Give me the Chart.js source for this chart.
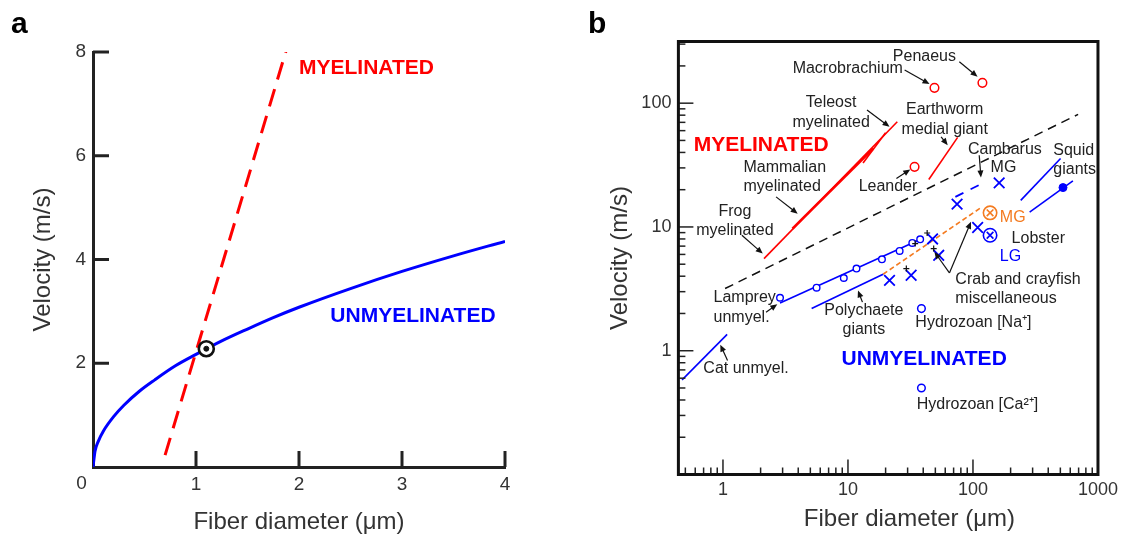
<!DOCTYPE html>
<html lang="en">
<head>
<meta charset="UTF-8">
<title>Conduction velocity vs fiber diameter</title>
<script src="https://cdn.jsdelivr.net/npm/chart.js"></script>
<style>
  body { margin: 0; background: #fff; font-family: "Liberation Sans", Arial, sans-serif; }
  .wrap { position: relative; width: 1123px; height: 535px; overflow: hidden; }
  #chartA { position: absolute; left: 0; top: 0; }
  #chartB { position: absolute; left: 560px; top: 0; }
  .panel { position: absolute; font-weight: bold; font-size: 30px; line-height: 30px; color: #000; }
</style>
</head>
<body>
<div class="wrap">
  <canvas id="chartA" width="560" height="535"></canvas>
  <canvas id="chartB" width="563" height="535"></canvas>
  <div class="panel" style="left:11px; top:8px;">a</div>
  <div class="panel" style="left:588px; top:8px;">b</div>
</div>
<script>
const FONT = '"Liberation Sans", Arial, sans-serif';
const TXT = '#222';

// ---------- panel a ----------
const unmyelDiam = [0, 0.02, 0.05, 0.1, 0.2, 0.3, 0.45, 0.6, 0.8, 1.0, 1.25, 1.5, 1.75, 2.0, 2.5, 3.0, 3.5, 4.0];
const unmyelVel  = [0, 0.31, 0.49, 0.69, 0.97, 1.19, 1.46, 1.68, 1.95, 2.17, 2.43, 2.66, 2.88, 3.08, 3.44, 3.77, 4.07, 4.35];
const myelDiam = [0.70, 1.88];
const myelVel  = [0.23, 8.06];
const crossDiam = [1.1];
const crossVel  = [2.28];
const xTicksA = [0, 1, 2, 3, 4];
const yTicksA = [0, 2, 4, 6, 8];

// ---------- panel b ----------
const dividerX = [1.04, 694];          // black dashed boundary
const dividerY = [3.18, 81.2];
const myelLineX = [2.13, 24.8];        // frog -> teleost red line
const myelLineY = [5.55, 70.7];
const mammalX = [3.6, 15.9];
const mammalY = [9.7, 43];
const teleostX = [13.2, 20];
const teleostY = [32.9, 57.6];
const wormX = [44.3, 75.4];
const wormY = [24.2, 52.9];
const redCircX = [49.2, 119, 34.1];    // Macrobrachium, Penaeus, Leander
const redCircY = [133, 146, 30.6];
const catX = [0.471, 1.08];
const catY = [0.582, 1.355];
const lampLineX = [2.86, 38.5];
const lampLineY = [2.43, 8.0];
const lampCircX = [2.86, 5.61, 9.26, 11.7, 18.7, 25.9, 32.7, 37.8];
const lampCircY = [2.68, 3.23, 3.87, 4.61, 5.48, 6.4, 7.43, 7.95];
const polyX = [5.12, 19.1];
const polyY = [2.19, 4.15];
const orangeX = [19.1, 118];
const orangeY = [4.15, 14.5];
const crabX = [21.5, 32, 47.5, 53.2, 74.6, 109, 162];
const crabY = [3.7, 4.07, 8.0, 5.9, 15.3, 9.9, 22.7];
const cambarusX = [72.3, 118];
const cambarusY = [17.5, 22.4];
const lobsterMGX = [137], lobsterMGY = [13.0];
const lobsterLGX = [137], lobsterLGY = [8.57];
const squid1X = [241, 502], squid1Y = [16.4, 35.7];
const squid2X = [284, 630], squid2Y = [13.2, 23.6];
const squidDotX = [525], squidDotY = [20.8];
const hydroX = [38.7, 38.7];
const hydroY = [2.19, 0.50];
const crabTickX = [43.0, 34.5, 48.5, 29.3];
const crabTickY = [8.94, 7.34, 6.69, 4.61];

const xTicksB = [0.5, 0.6, 0.7, 0.8, 0.9, 1, 2, 3, 4, 5, 6, 7, 8, 9, 10, 20, 30, 40, 50, 60, 70, 80, 90,
                 100, 200, 300, 400, 500, 600, 700, 800, 900, 1000];
const yTicksB = [0.2, 0.3, 0.4, 0.5, 0.6, 0.7, 0.8, 0.9, 1, 2, 3, 4, 5, 6, 7, 8, 9, 10, 20, 30, 40, 50, 60, 70, 80, 90,
                 100, 200, 300];
const xLabelsB = [1, 10, 100, 1000];
const yLabelsB = [1, 10, 100];

// text annotations (data coordinates)
const labelsB = [
  { t: ['Penaeus'], x: 40.9, y: 240 },
  { t: ['Macrobrachium'], x: 9.96, y: 190.5 },
  { t: ['Teleost', 'myelinated'], x: 7.33, y: 83.8 },
  { t: ['Earthworm', 'medial giant'], x: 59.4, y: 73.7 },
  { t: ['MYELINATED'], x: 0.583, y: 45.8, align: 'left', color: '#ff0000', bold: true, size: 21 },
  { t: ['Cambarus'], x: 180, y: 42.5 },
  { t: ['MG'], x: 138.4, y: 30.0, align: 'left' },
  { t: ['Squid', 'giants'], x: 439, y: 34.8, align: 'left' },
  { t: ['Mammalian', 'myelinated'], x: 1.459, y: 25.2, align: 'left' },
  { t: ['Leander'], x: 20.9, y: 21.1 },
  { t: ['Frog', 'myelinated'], x: 1.246, y: 11.2 },
  { t: ['MG'], x: 164, y: 11.9, align: 'left', color: '#f47b20' },
  { t: ['Lobster'], x: 333, y: 8.06 },
  { t: ['LG'], x: 164, y: 5.72, align: 'left', color: '#0000ff' },
  { t: ['Crab and crayfish', 'miscellaneous'], x: 72.3, y: 3.13, align: 'left' },
  { t: ['Lamprey', 'unmyel.'], x: 0.841, y: 2.23, align: 'left' },
  { t: ['Polychaete', 'giants'], x: 13.4, y: 1.77 },
  { t: ['Hydrozoan [Na\u207A]'], x: 34.6, y: 1.68, align: 'left' },
  { t: ['UNMYELINATED'], x: 8.88, y: 0.85, align: 'left', color: '#0000ff', bold: true, size: 21 },
  { t: ['Cat unmyel.'], x: 1.53, y: 0.715 },
  { t: ['Hydrozoan [Ca\u00B2\u207A]'], x: 35.5, y: 0.37, align: 'left' }
];
// arrows [x1, y1, x2, y2] in data coordinates, head at the second point
const arrowsB = [
  [28.4, 185.3, 44.9, 142.8],
  [77.8, 216, 108.8, 163.5],
  [14.2, 88, 21.5, 64.4],
  [55.6, 53.5, 62.8, 45.8],
  [112.2, 38, 115.8, 25.1],
  [2.66, 17.5, 3.96, 12.8],
  [24.4, 24.6, 31.5, 29.1],
  [1.417, 8.57, 2.08, 6.09],
  [64.8, 4.25, 96.4, 11.0],
  [64.8, 4.25, 49.2, 6.28],
  [2.21, 2.05, 2.72, 2.37],
  [13.05, 2.47, 12.03, 3.07],
  [1.088, 0.835, 0.952, 1.118]
];

const labelsA = [
  { t: ['MYELINATED'], x: 2.0, y: 7.68, align: 'left', color: '#ff0000', bold: true, size: 21 },
  { t: ['UNMYELINATED'], x: 2.304, y: 2.91, align: 'left', color: '#0000ff', bold: true, size: 21 }
];

function pts(xs, ys) { return xs.map((x, i) => ({ x: x, y: ys[i] })); }

function lineSet(xs, ys, color, width, dash) {
  return { data: pts(xs, ys), showLine: true, pointRadius: 0, borderColor: color,
           borderWidth: width, borderDash: dash || [], fill: false };
}
function pointSet(xs, ys, style, radius, color, width, fillColor) {
  return { data: pts(xs, ys), showLine: false, pointStyle: style, pointRadius: radius,
           pointBorderColor: color, pointBorderWidth: width,
           pointBackgroundColor: fillColor || 'rgba(0,0,0,0)' };
}

function tickMarks(majorVals, majorLen, minorLen, width, skipMax) {
  return {
    id: 'tickMarks',
    afterDatasetsDraw(chart) {
      const { ctx, chartArea: a, scales } = chart;
      ctx.save();
      ctx.strokeStyle = '#222';
      ctx.lineWidth = width;
      scales.x.ticks.forEach(t => {
        if (t.value <= scales.x.min || (skipMax && t.value >= scales.x.max)) return;
        const len = majorVals.includes(t.value) ? majorLen : minorLen;
        const p = scales.x.getPixelForValue(t.value);
        ctx.beginPath(); ctx.moveTo(p, a.bottom); ctx.lineTo(p, a.bottom - len); ctx.stroke();
      });
      scales.y.ticks.forEach(t => {
        if (t.value <= scales.y.min || (skipMax && t.value >= scales.y.max)) return;
        const len = majorVals.includes(t.value) ? majorLen : minorLen;
        const p = scales.y.getPixelForValue(t.value);
        ctx.beginPath(); ctx.moveTo(a.left, p); ctx.lineTo(a.left + len, p); ctx.stroke();
      });
      ctx.restore();
    }
  };
}

function drawLabels(chart, list) {
  const { ctx, scales } = chart;
  ctx.save();
  ctx.textBaseline = 'middle';
  list.forEach(l => {
    const size = l.size || 16;
    ctx.font = (l.bold ? 'bold ' : '') + size + 'px ' + FONT;
    ctx.fillStyle = l.color || TXT;
    ctx.textAlign = l.align || 'center';
    const px = scales.x.getPixelForValue(l.x);
    const py = scales.y.getPixelForValue(l.y);
    const lh = 19.3;
    const y0 = py - (l.t.length - 1) * lh / 2;
    l.t.forEach((s, i) => ctx.fillText(s, px, y0 + i * lh));
  });
  ctx.restore();
}

const annotA = {
  id: 'annotA',
  afterDraw(chart) {
    drawLabels(chart, labelsA);
    const { ctx, chartArea: a } = chart;
    ctx.save();
    ctx.font = '19px ' + FONT;
    ctx.fillStyle = '#333';
    ctx.textAlign = 'center';
    ctx.textBaseline = 'middle';
    ctx.fillText('0', a.left - 11.5, a.bottom + 17);
    ctx.restore();
  }
};

const annotB = {
  id: 'annotB',
  afterDraw(chart) {
    const { ctx, chartArea: a, scales } = chart;
    ctx.save();
    ctx.strokeStyle = '#111';
    ctx.lineWidth = 3;
    ctx.strokeRect(a.left, a.top, a.right - a.left, a.bottom - a.top);
    ctx.strokeStyle = '#111';
    ctx.fillStyle = '#111';
    ctx.lineWidth = 1.2;
    arrowsB.forEach(r => {
      const x1 = scales.x.getPixelForValue(r[0]), y1 = scales.y.getPixelForValue(r[1]);
      const x2 = scales.x.getPixelForValue(r[2]), y2 = scales.y.getPixelForValue(r[3]);
      const ang = Math.atan2(y2 - y1, x2 - x1);
      const hl = 7, hw = 3;
      ctx.beginPath(); ctx.moveTo(x1, y1);
      ctx.lineTo(x2 - Math.cos(ang) * hl * 0.8, y2 - Math.sin(ang) * hl * 0.8); ctx.stroke();
      ctx.beginPath();
      ctx.moveTo(x2, y2);
      ctx.lineTo(x2 - Math.cos(ang) * hl - Math.sin(ang) * hw, y2 - Math.sin(ang) * hl + Math.cos(ang) * hw);
      ctx.lineTo(x2 - Math.cos(ang) * hl + Math.sin(ang) * hw, y2 - Math.sin(ang) * hl - Math.cos(ang) * hw);
      ctx.closePath(); ctx.fill();
    });
    ctx.restore();
    drawLabels(chart, labelsB);
    // x axis title, placed as in the original figure
    ctx.save();
    ctx.font = '24px ' + FONT;
    ctx.fillStyle = '#333';
    ctx.textAlign = 'center';
    ctx.textBaseline = 'middle';
    ctx.fillText('Fiber diameter (\u03BCm)', scales.x.getPixelForValue(31), chart.height - 16);
    ctx.restore();
  }
};

Chart.defaults.font.family = FONT;

new Chart(document.getElementById('chartA'), {
  type: 'scatter',
  data: {
    datasets: [
      pointSet(crossDiam, crossVel, 'circle', 2.5, '#111', 1, '#111'),
      pointSet(crossDiam, crossVel, 'circle', 7.5, '#111', 2.6, '#fff'),
      lineSet(myelDiam, myelVel, '#ff0000', 3, [18, 10]),
      Object.assign(lineSet(unmyelDiam, unmyelVel, '#0000ff', 3), { cubicInterpolationMode: 'monotone' })
    ]
  },
  options: {
    responsive: false, animation: false, devicePixelRatio: 1,
    layout: { padding: { left: 0, right: 55, top: 52, bottom: 0 } },
    plugins: { legend: { display: false }, tooltip: { enabled: false } },
    scales: {
      x: {
        type: 'linear', min: 0, max: 4,
        afterBuildTicks: s => { s.ticks = xTicksA.map(v => ({ value: v })); },
        afterFit: s => { s.height = 68; },
        grid: { display: false, drawTicks: false },
        border: { display: true, width: 3, color: '#222' },
        ticks: { callback: v => (v === 0 ? '' : String(v)), autoSkip: false, maxRotation: 0,
                 padding: 6, color: '#333', font: { size: 19 } },
        title: { display: true, text: 'Fiber diameter (\u03BCm)', color: '#333',
                 font: { size: 24, lineHeight: 1 }, padding: { top: 0, bottom: 1 } }
      },
      y: {
        type: 'linear', min: 0, max: 8,
        afterBuildTicks: s => { s.ticks = yTicksA.map(v => ({ value: v })); },
        afterFit: s => { s.width = 93; },
        grid: { display: false, drawTicks: false },
        border: { display: true, width: 3, color: '#222' },
        ticks: { callback: v => (v === 0 ? '' : String(v)), autoSkip: false,
                 padding: 7, color: '#333', font: { size: 19 } },
        title: { display: true, text: 'Velocity (m/s)', color: '#333',
                 font: { size: 24, lineHeight: 1 }, padding: { top: 31, bottom: 0 } }
      }
    }
  },
  plugins: [tickMarks([1, 2, 3, 4, 6, 8], 16, 16, 3, false), annotA]
});

new Chart(document.getElementById('chartB'), {
  type: 'scatter',
  data: {
    datasets: [
      pointSet(crabTickX, crabTickY, 'cross', 3, '#111', 1.2),
      pointSet(squidDotX, squidDotY, 'circle', 4, '#0000ff', 1, '#0000ff'),
      pointSet(lobsterMGX, lobsterMGY, 'crossRot', 4.7, '#f47b20', 1.6),
      pointSet(lobsterMGX, lobsterMGY, 'circle', 6.7, '#f47b20', 1.6),
      pointSet(lobsterLGX, lobsterLGY, 'crossRot', 4.7, '#0000ff', 1.6),
      pointSet(lobsterLGX, lobsterLGY, 'circle', 6.7, '#0000ff', 1.6),
      pointSet(crabX, crabY, 'crossRot', 7.5, '#0000ff', 1.8),
      pointSet(redCircX, redCircY, 'circle', 4.3, '#ff0000', 1.5),
      pointSet(lampCircX, lampCircY, 'circle', 3.3, '#0000ff', 1.4, '#fff'),
      pointSet(hydroX, hydroY, 'circle', 3.8, '#0000ff', 1.5),
      lineSet(myelLineX, myelLineY, '#ff0000', 1.6),
      lineSet(mammalX, mammalY, '#ff0000', 2.6),
      lineSet(teleostX, teleostY, '#ff0000', 1.6),
      lineSet(wormX, wormY, '#ff0000', 1.6),
      lineSet(dividerX, dividerY, '#111', 1.5, [9, 6]),
      lineSet(catX, catY, '#0000ff', 1.6),
      lineSet(lampLineX, lampLineY, '#0000ff', 1.6),
      lineSet(polyX, polyY, '#0000ff', 1.6),
      lineSet(orangeX, orangeY, '#f47b20', 1.6, [5, 3]),
      lineSet(cambarusX, cambarusY, '#0000ff', 1.8, [9, 8]),
      lineSet(squid1X, squid1Y, '#0000ff', 1.6),
      lineSet(squid2X, squid2Y, '#0000ff', 1.6)
    ]
  },
  options: {
    responsive: false, animation: false, devicePixelRatio: 1,
    layout: { padding: { left: 0, right: 23, top: 41.5, bottom: 0 } },
    plugins: { legend: { display: false }, tooltip: { enabled: false } },
    scales: {
      x: {
        type: 'logarithmic', min: 0.44, max: 1000,
        afterBuildTicks: s => { s.ticks = xTicksB.map(v => ({ value: v })); },
        afterFit: s => { s.height = 60.5; },
        grid: { display: false, drawTicks: false },
        border: { display: false },
        ticks: { callback: v => (xLabelsB.includes(v) ? String(v) : ''), autoSkip: false, maxRotation: 0,
                 padding: 5, color: '#333', font: { size: 18 } }
      },
      y: {
        type: 'logarithmic', min: 0.1, max: 315,
        afterBuildTicks: s => { s.ticks = yTicksB.map(v => ({ value: v })); },
        afterFit: s => { s.width = 118.4; },
        grid: { display: false, drawTicks: false },
        border: { display: false },
        ticks: { callback: v => (yLabelsB.includes(v) ? String(v) : ''), autoSkip: false,
                 padding: 7, color: '#333', font: { size: 18 } },
        title: { display: true, text: 'Velocity (m/s)', color: '#333',
                 font: { size: 24, lineHeight: 1 }, padding: { top: 48.6, bottom: 0 } }
      }
    }
  },
  plugins: [tickMarks([1, 10, 100], 15, 7, 1.5, true), annotB]
});
</script>
</body>
</html>
